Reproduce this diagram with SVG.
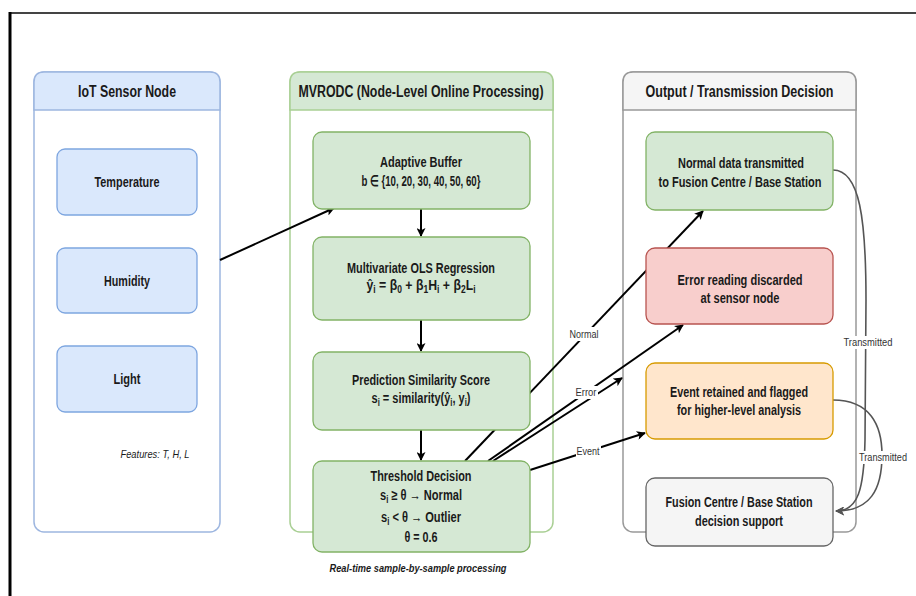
<svg xmlns="http://www.w3.org/2000/svg" width="916" height="596" viewBox="0 0 916 596">
<defs>
<style>
text{font-family:"Liberation Sans",Arial,sans-serif;fill:#1a1a1a;text-anchor:middle}
.hd{font-size:16px;font-weight:bold}
.nd{font-size:14.5px;font-weight:bold}
.it{font-size:11.5px;font-style:italic}
.lb{font-size:11px;fill:#333}
.edge{fill:none;stroke:#000;stroke-width:2}
.tx{fill:none;stroke:#555;stroke-width:1.6}
.lbg{fill:#fff}
</style>
<marker id="ah" viewBox="0 0 10 10" refX="9" refY="5" markerWidth="10" markerHeight="9" markerUnits="userSpaceOnUse" orient="auto"><path d="M0,0 L10,5 L0,10 L2.5,5 Z" fill="#000"/></marker>
<marker id="ahg" viewBox="0 0 10 10" refX="9" refY="5" markerWidth="10" markerHeight="9" markerUnits="userSpaceOnUse" orient="auto"><path d="M0,0 L10,5 L0,10 L2.5,5 Z" fill="#555"/></marker>
</defs>
<rect width="916" height="596" fill="#fff"/>
<line x1="9" y1="13" x2="916" y2="13" stroke="#444" stroke-width="2"/>
<line x1="10" y1="12" x2="10" y2="596" stroke="#000" stroke-width="3"/>

<g id="iot-container">
<rect x="34" y="72" width="186" height="460" rx="10" fill="#fff" stroke="#9db6e0" stroke-width="1.5"/>
<path d="M34,110 V82 Q34,72 44,72 H210 Q220,72 220,82 V110 Z" fill="#dae8fc" stroke="#9db6e0" stroke-width="1.5"/>
<text class="hd" x="127" y="97" textLength="98" lengthAdjust="spacingAndGlyphs">IoT Sensor Node</text>
<text class="it" x="155" y="458" textLength="69" lengthAdjust="spacingAndGlyphs">Features: T, H, L</text>
</g>
<g id="temperature">
<rect x="57" y="149" width="140" height="66" rx="8" fill="#dae8fc" stroke="#7ea6e0" stroke-width="1.3"/>
<text class="nd" x="127" y="187" textLength="65" lengthAdjust="spacingAndGlyphs">Temperature</text>
</g>
<g id="humidity">
<rect x="57" y="248" width="140" height="65" rx="8" fill="#dae8fc" stroke="#7ea6e0" stroke-width="1.3"/>
<text class="nd" x="127" y="286" textLength="46" lengthAdjust="spacingAndGlyphs">Humidity</text>
</g>
<g id="light">
<rect x="57" y="346" width="140" height="66" rx="8" fill="#dae8fc" stroke="#7ea6e0" stroke-width="1.3"/>
<text class="nd" x="127" y="384" textLength="27" lengthAdjust="spacingAndGlyphs">Light</text>
</g>

<g id="mvrodc-container">
<rect x="290" y="72" width="263" height="460" rx="10" fill="#fff" stroke="#a9cf94" stroke-width="1.5"/>
<path d="M290,110 V82 Q290,72 300,72 H543 Q553,72 553,82 V110 Z" fill="#d5e8d4" stroke="#a9cf94" stroke-width="1.5"/>
<text class="hd" x="421" y="97" textLength="245" lengthAdjust="spacingAndGlyphs">MVRODC (Node-Level Online Processing)</text>
<text class="it" style="font-weight:bold" x="418" y="572" textLength="177" lengthAdjust="spacingAndGlyphs">Real-time sample-by-sample processing</text>
</g>

<g id="output-container">
<rect x="623" y="72" width="233" height="460" rx="10" fill="#fff" stroke="#999" stroke-width="1.5"/>
<path d="M623,110 V82 Q623,72 633,72 H846 Q856,72 856,82 V110 Z" fill="#f5f5f5" stroke="#999" stroke-width="1.5"/>
<text class="hd" x="739.5" y="97" textLength="188" lengthAdjust="spacingAndGlyphs">Output / Transmission Decision</text>
</g>

<g id="connectors">
<line class="edge" x1="220" y1="260" x2="334" y2="208" marker-end="url(#ah)"/>
<line class="edge" x1="421" y1="209" x2="421" y2="236" marker-end="url(#ah)"/>
<line class="edge" x1="421" y1="320" x2="421" y2="351" marker-end="url(#ah)"/>
<line class="edge" x1="421" y1="430" x2="421" y2="460" marker-end="url(#ah)"/>
<line class="edge" x1="465" y1="461" x2="703" y2="211" marker-end="url(#ah)"/>
<line class="edge" x1="488" y1="461" x2="683" y2="325" marker-end="url(#ah)"/>
<line class="edge" x1="493" y1="461" x2="622" y2="378" marker-end="url(#ah)"/>
<line class="edge" x1="530" y1="470" x2="645" y2="433" marker-end="url(#ah)"/>
<path class="tx" d="M833,170 C860,170 866,220 866,300 L865,440 C864,490 858,511 836,511" marker-end="url(#ahg)"/>
<path class="tx" d="M833,400 C870,400 882,425 882,455 C882,490 870,511 836,511" marker-end="url(#ahg)"/>
<rect class="lbg" x="569" y="327" width="31" height="14"/>
<text class="lb" x="584" y="338" textLength="29" lengthAdjust="spacingAndGlyphs">Normal</text>
<rect class="lbg" x="575" y="386" width="23" height="13"/>
<text class="lb" x="586" y="396" textLength="21" lengthAdjust="spacingAndGlyphs">Error</text>
<rect class="lbg" x="576" y="445" width="25" height="13"/>
<text class="lb" x="588" y="455" textLength="23" lengthAdjust="spacingAndGlyphs">Event</text>
<rect class="lbg" x="843" y="336" width="50" height="13"/>
<text class="lb" x="868" y="346" textLength="49" lengthAdjust="spacingAndGlyphs">Transmitted</text>
<rect class="lbg" x="858" y="451" width="50" height="13"/>
<text class="lb" x="883" y="461" textLength="48" lengthAdjust="spacingAndGlyphs">Transmitted</text>
</g>

<g id="adaptive-buffer">
<rect x="313" y="132" width="217" height="77" rx="9" fill="#d5e8d4" stroke="#82b366" stroke-width="1.3"/>
<text class="nd" x="421" y="167" textLength="82" lengthAdjust="spacingAndGlyphs">Adaptive Buffer</text>
<text class="nd" x="421" y="186" textLength="119" lengthAdjust="spacingAndGlyphs">b ∈ {10, 20, 30, 40, 50, 60}</text>
</g>
<g id="ols-regression">
<rect x="313" y="237" width="217" height="83" rx="9" fill="#d5e8d4" stroke="#82b366" stroke-width="1.3"/>
<text class="nd" x="421" y="273" textLength="148" lengthAdjust="spacingAndGlyphs">Multivariate OLS Regression</text>
<text class="nd" x="421" y="290" textLength="109" lengthAdjust="spacingAndGlyphs">ŷ<tspan font-size="10" baseline-shift="-3">i</tspan> = β<tspan font-size="10" baseline-shift="-3">0</tspan> + β<tspan font-size="10" baseline-shift="-3">1</tspan>H<tspan font-size="10" baseline-shift="-3">i</tspan> + β<tspan font-size="10" baseline-shift="-3">2</tspan>L<tspan font-size="10" baseline-shift="-3">i</tspan></text>
</g>
<g id="similarity-score">
<rect x="313" y="352" width="217" height="78" rx="9" fill="#d5e8d4" stroke="#82b366" stroke-width="1.3"/>
<text class="nd" x="421" y="385" textLength="138" lengthAdjust="spacingAndGlyphs">Prediction Similarity Score</text>
<text class="nd" x="421" y="403" textLength="99" lengthAdjust="spacingAndGlyphs">s<tspan font-size="10" baseline-shift="-3">i</tspan> = similarity(ŷ<tspan font-size="10" baseline-shift="-3">i</tspan>, y<tspan font-size="10" baseline-shift="-3">i</tspan>)</text>
</g>
<g id="threshold-decision">
<rect x="313" y="461" width="217" height="91" rx="9" fill="#d5e8d4" stroke="#82b366" stroke-width="1.3"/>
<text class="nd" x="421" y="481" textLength="101" lengthAdjust="spacingAndGlyphs">Threshold Decision</text>
<text class="nd" x="421" y="500" textLength="82" lengthAdjust="spacingAndGlyphs">s<tspan font-size="10" baseline-shift="-3">i</tspan> ≥ θ → Normal</text>
<text class="nd" x="421" y="522" textLength="80" lengthAdjust="spacingAndGlyphs">s<tspan font-size="10" baseline-shift="-3">i</tspan> &lt; θ → Outlier</text>
<text class="nd" x="421" y="542" textLength="33" lengthAdjust="spacingAndGlyphs">θ = 0.6</text>
</g>

<g id="normal-transmitted">
<rect x="646" y="132" width="187" height="78" rx="9" fill="#d5e8d4" stroke="#82b366" stroke-width="1.3"/>
<text class="nd" x="741" y="168" textLength="126" lengthAdjust="spacingAndGlyphs">Normal data transmitted</text>
<text class="nd" x="740" y="187" textLength="163" lengthAdjust="spacingAndGlyphs">to Fusion Centre / Base Station</text>
</g>
<g id="error-discarded">
<rect x="646" y="248" width="187" height="76" rx="9" fill="#f8cecc" stroke="#b85450" stroke-width="1.3"/>
<text class="nd" x="740" y="285" textLength="125" lengthAdjust="spacingAndGlyphs">Error reading discarded</text>
<text class="nd" x="740" y="303" textLength="79" lengthAdjust="spacingAndGlyphs">at sensor node</text>
</g>
<g id="event-retained">
<rect x="646" y="363" width="187" height="76" rx="9" fill="#ffe6cc" stroke="#d79b00" stroke-width="1.3"/>
<text class="nd" x="739" y="397" textLength="138" lengthAdjust="spacingAndGlyphs">Event retained and flagged</text>
<text class="nd" x="739" y="415" textLength="124" lengthAdjust="spacingAndGlyphs">for higher-level analysis</text>
</g>
<g id="fusion-centre">
<rect x="646" y="478" width="187" height="68" rx="9" fill="#f5f5f5" stroke="#666" stroke-width="1.3"/>
<text class="nd" x="739" y="507" textLength="147" lengthAdjust="spacingAndGlyphs">Fusion Centre / Base Station</text>
<text class="nd" x="739" y="526" textLength="88" lengthAdjust="spacingAndGlyphs">decision support</text>
</g>
</svg>
